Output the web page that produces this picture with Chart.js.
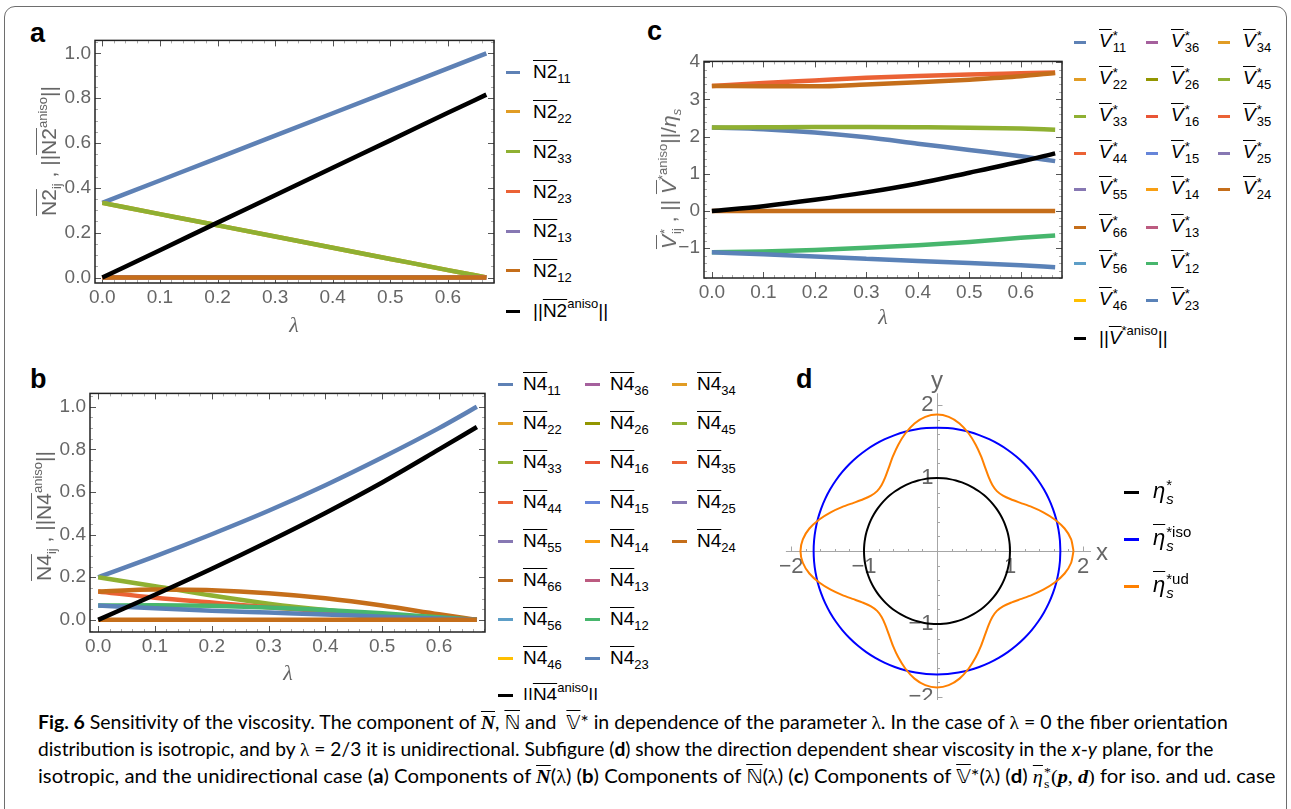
<!DOCTYPE html>
<html>
<head>
<meta charset="utf-8">
<title>Fig. 6 – Sensitivity of the viscosity</title>
<script src="https://cdn.jsdelivr.net/npm/chart.js@4.4.1/dist/chart.umd.min.js"></script>
<style>
  html, body { margin: 0; padding: 0; background: #fff; }
  #fig { position: relative; width: 1291px; height: 809px; overflow: hidden;
         font-family: "Liberation Sans", Arial, sans-serif; color: #000; }
  #frame { position: absolute; left: 4px; top: 6px; width: 1283px; height: 840px;
           border: 1.5px solid #6e6e6e; border-radius: 11px; box-sizing: border-box; }
  canvas { position: absolute; }
  .plab  { position: absolute; font: bold 27px "Liberation Sans", Arial, sans-serif; line-height: 1; }
  .ytitle { position: absolute; white-space: nowrap; color: #666; font-size: 21px;
            transform: translate(-50%, -50%) rotate(-90deg); }
  .lam { position: absolute; color: #666; font: italic 22px "Liberation Serif", serif;
         transform: translate(-50%, -50%); }
  .axl { position: absolute; color: #666; font-size: 24px; transform: translate(-50%, -50%); }
  .lg  { position: absolute; display: flex; align-items: center; white-space: nowrap;
         font-size: 19px; transform: translateY(-50%); }
  .lg.big { font-size: 22px; }
  .lg .sw { display: inline-block; height: 3px; flex: none; }
  .ol  { text-decoration: overline; text-decoration-thickness: 1px; }
  sub  { font-size: 13px; vertical-align: -5px; line-height: 0; }
  sup  { font-size: 13px; vertical-align: 9px; line-height: 0; }
  .st  { display: inline-block; font-size: 13px; line-height: 12px; vertical-align: -5px; margin-left: 1px; }
  .big .st { font-size: 15px; line-height: 14px; vertical-align: -6px; }
  .st > span { display: block; }
  #cap { position: absolute; left: 6px; top: 700px; width: 1279px; height: 109px; background: #fff; }
  .cl  { position: absolute; left: 32px; white-space: nowrap; font: 19px Lato, "Open Sans", sans-serif;
         line-height: 27px; transform-origin: 0 50%; }
  .lm  { font-family: "Liberation Serif", serif; }
  .bi  { font-family: "Liberation Serif", serif; font-weight: bold; font-style: italic; }
  .ds  { font-family: "DejaVu Sans", "DejaVu Serif", sans-serif; }
</style>
</head>
<body>
<div id="fig">
  <div id="frame"></div>

  <div class="plab" style="left:30px;top:20px">a</div>
  <div class="plab" style="left:30px;top:366px">b</div>
  <div class="plab" style="left:647px;top:18px">c</div>
  <div class="plab" style="left:796px;top:366px">d</div>

  <canvas id="chartA" width="460" height="300" style="left:40px;top:25px"></canvas>
  <canvas id="chartB" width="452" height="300" style="left:40px;top:378px"></canvas>
  <canvas id="chartC" width="410" height="272" style="left:660px;top:46px"></canvas>
  <canvas id="chartD" width="330" height="340" style="left:780px;top:370px"></canvas>

  <div class="ytitle" style="left:49px;top:151px"><span class="ol">N2</span><sub>ij</sub> , ||<span class="ol">N2</span><sup>aniso</sup>||</div>
  <div class="ytitle" style="left:44px;top:516px"><span class="ol">N4</span><sub>ij</sub> , ||<span class="ol">N4</span><sup>aniso</sup>||</div>
  <div class="ytitle" style="left:670px;top:179px"><i class="ol">V</i><span class="st"><span>*</span><span>ij</span></span> , || <i class="ol">V</i><sup>*aniso</sup>||/<i>η</i><sub><i>s</i></sub></div>

  <div class="lam" style="left:294px;top:325px">λ</div>
  <div class="lam" style="left:288px;top:673px">λ</div>
  <div class="lam" style="left:883px;top:317px">λ</div>

  <div class="axl" style="left:1102px;top:552px">x</div>
  <div class="axl" style="left:937px;top:380px">y</div>

  <div id="cap">
    <div class="cl" id="cl1" style="top:8px"><b>Fig. 6</b> Sensitivity of the viscosity. The component of <span class="ol bi">N</span>, <span class="ol ds">ℕ</span> and&nbsp; <span class="ol ds">𝕍</span>* in dependence of the parameter <span class="lm">λ</span>. In the case of <span class="lm">λ</span> = 0 the fiber orientation</div>
    <div class="cl" id="cl2" style="top:35px">distribution is isotropic, and by <span class="lm">λ</span> = 2/3 it is unidirectional. Subfigure (<b>d</b>) show the direction dependent shear viscosity in the <i>x</i>-<i>y</i> plane, for the</div>
    <div class="cl" id="cl3" style="top:62px">isotropic, and the unidirectional case (<b>a</b>) Components of <span class="ol bi">N</span>(<span class="lm">λ</span>) (<b>b</b>) Components of <span class="ol ds">ℕ</span>(<span class="lm">λ</span>) (<b>c</b>) Components of <span class="ol ds">𝕍</span>*(<span class="lm">λ</span>) (<b>d</b>) <span class="lm"><i class="ol">η</i><span class="st"><span>*</span><span>s</span></span>(<b><i>p</i></b>, <b><i>d</i></b>)</span> for iso. and ud. case</div>
  </div>
</div>

<script>
/* ── Fig. 6: viscosity sensitivity, four panels ───────────── */

// ── Shared ────────────────────────────────
const FONT = '"Liberation Sans", Arial, sans-serif';
const GRAY = '#666';

const COLORS = {
  blue: '#5E81B5', orange: '#E19C24', green: '#8FB032', red: '#EB6235',
  purple: '#8778B3', brown: '#C56E1A', ltblue: '#5D9EC7', yellow: '#FFBF00',
  magenta: '#A5609D', olive: '#929600', red2: '#E95536', blue2: '#6685D9',
  orange2: '#F89F13', pink: '#BC5B80', green2: '#47B66D', blue3: '#5A82B8'
};

// λ samples shared by a, b, c
const LAMBDA  = [0, 0.1, 0.2, 0.3, 0.4, 0.5, 0.6, 0.6667];
const X_TICKS = [0, 0.1, 0.2, 0.3, 0.4, 0.5, 0.6];

// ── (a) N2 ────────────────────────────────
const A_Y_TICKS = [0, 0.2, 0.4, 0.6, 0.8, 1.0];
const A_N2_11   = [0.333, 0.433, 0.533, 0.633, 0.733, 0.833, 0.933, 1.0];
const A_N2_22   = [0.333, 0.283, 0.233, 0.183, 0.133, 0.083, 0.033, 0.0];
const A_N2_33   = [0.333, 0.283, 0.233, 0.183, 0.133, 0.083, 0.033, 0.0];
const A_N2_23   = [0, 0, 0, 0, 0, 0, 0, 0];
const A_N2_13   = [0, 0, 0, 0, 0, 0, 0, 0];
const A_N2_12   = [0, 0, 0, 0, 0, 0, 0, 0];
const A_ANISO   = [0, 0.122, 0.245, 0.367, 0.49, 0.612, 0.735, 0.816];
const A_LEGEND  = ['11', '22', '33', '23', '13', '12'];
const A_LEGEND_COLORS = [COLORS.blue, COLORS.orange, COLORS.green, COLORS.red, COLORS.purple, COLORS.brown];

// ── (b) N4 ────────────────────────────────
const B_Y_TICKS = [0, 0.2, 0.4, 0.6, 0.8, 1.0];
const B_N4_11   = [0.2, 0.298, 0.402, 0.512, 0.632, 0.762, 0.9, 1.0];
const B_N4_33   = [0.2, 0.158, 0.114, 0.076, 0.046, 0.023, 0.008, 0.0];
const B_N4_44   = [0.133, 0.104, 0.081, 0.059, 0.04, 0.023, 0.009, 0.0];
const B_N4_66   = [0.133, 0.142, 0.139, 0.125, 0.101, 0.067, 0.026, 0.0];
const B_N4_12   = [0.067, 0.069, 0.066, 0.058, 0.046, 0.031, 0.012, 0.0];
const B_N4_23   = [0.067, 0.054, 0.043, 0.034, 0.025, 0.015, 0.006, 0.0];
const B_N4_24   = [0, 0, 0, 0, 0, 0, 0, 0];
const B_ANISO   = [0, 0.118, 0.24, 0.368, 0.502, 0.645, 0.80, 0.905];

// legend columns (same index layout for b and c)
const IDX_COLS = [
  ['11', '22', '33', '44', '55', '66', '56', '46'],
  ['36', '26', '16', '15', '14', '13', '12', '23'],
  ['34', '45', '35', '25', '24']
];
const IDX_COLORS = [
  [COLORS.blue, COLORS.orange, COLORS.green, COLORS.red, COLORS.purple, COLORS.brown, COLORS.ltblue, COLORS.yellow],
  [COLORS.magenta, COLORS.olive, COLORS.red2, COLORS.blue2, COLORS.orange2, COLORS.pink, COLORS.green2, COLORS.blue3],
  [COLORS.orange, COLORS.green, COLORS.red, COLORS.purple, COLORS.brown]
];

// ── (c) V* ────────────────────────────────
const C_Y_TICKS = [-1, 0, 1, 2, 3, 4];
const C_V_44    = [3.36, 3.44, 3.51, 3.58, 3.63, 3.67, 3.70, 3.72];
const C_V_66    = [3.36, 3.35, 3.35, 3.40, 3.46, 3.53, 3.62, 3.71];
const C_V_33    = [2.245, 2.25, 2.255, 2.255, 2.25, 2.24, 2.215, 2.185];
const C_V_11    = [2.245, 2.20, 2.11, 1.98, 1.81, 1.64, 1.47, 1.34];
const C_V_12    = [-1.11, -1.09, -1.05, -0.99, -0.92, -0.83, -0.72, -0.655];
const C_V_23    = [-1.11, -1.16, -1.22, -1.28, -1.34, -1.40, -1.46, -1.51];
const C_V_24    = [0, 0, 0, 0, 0, 0, 0, 0];
const C_ANISO   = [0, 0.13, 0.30, 0.50, 0.74, 1.03, 1.33, 1.55];

// ── (d) polar viscosity, one octant (mirrored by symmetry) ──
const D_ANGLES   = [0, 5, 10, 15, 20, 25, 30, 35, 40, 45];
const D_R_BASE   = [1, 1, 1, 1, 1, 1, 1, 1, 1, 1];
const D_R_ISO    = [1.69, 1.69, 1.69, 1.69, 1.69, 1.69, 1.69, 1.69, 1.69, 1.69];
const D_R_UD     = [1.87, 1.845, 1.775, 1.67, 1.55, 1.43, 1.32, 1.235, 1.18, 1.16];
const D_TICKS    = [-2, -1, 1, 2];
const D_X_AXIS   = [-2.07, 2.11];
const D_Y_AXIS   = [-2.2, 2.16];

// ── Helpers ───────────────────────────────
const fig = document.getElementById('fig');

function series(ys, color, w = 4.5) {
  return {
    data: LAMBDA.map((x, i) => ({ x, y: ys[i] })),
    borderColor: color, borderWidth: w, pointRadius: 0, fill: false,
    cubicInterpolationMode: 'monotone'
  };
}

// later datasets are drawn on top, as in the original
const stacked = list => list.map((d, i) => ({ ...d, order: list.length - i }));

function axis(min, max, ticks, fmt, dim, size, pad) {
  return {
    type: 'linear', min, max,
    grid: { display: false, drawTicks: false },
    border: { display: false },
    ticks: { color: GRAY, font: { family: FONT, size: 19 }, padding: pad,
             autoSkip: false, maxRotation: 0, callback: v => fmt(v) },
    afterBuildTicks: s => { s.ticks = ticks.map(value => ({ value })); },
    afterFit: s => { s[dim] = size; }
  };
}

const minus = v => (v < 0 ? '\u2212' + Math.abs(v) : String(v));

// Mathematica-style frame with inward ticks on all sides
const framePlugin = {
  id: 'mmaFrame',
  beforeDatasetsDraw(chart, args, o) {
    const { ctx, chartArea: a, scales: { x, y } } = chart;
    ctx.save();
    ctx.lineWidth = 1;
    const marks = (sc, step, len, color, horiz) => {
      ctx.strokeStyle = color;
      ctx.beginPath();
      const start = Math.ceil(sc.min / step - 1e-9) * step;
      for (let v = start; v <= sc.max + 1e-9; v += step) {
        const p = Math.round(sc.getPixelForValue(v)) + 0.5;
        if (horiz) {
          ctx.moveTo(p, a.bottom); ctx.lineTo(p, a.bottom - len);
          ctx.moveTo(p, a.top);    ctx.lineTo(p, a.top + len);
        } else {
          ctx.moveTo(a.left, p);  ctx.lineTo(a.left + len, p);
          ctx.moveTo(a.right, p); ctx.lineTo(a.right - len, p);
        }
      }
      ctx.stroke();
    };
    marks(x, o.xMinor, 3, '#aaa', true);
    marks(y, o.yMinor, 3, '#aaa', false);
    marks(x, 0.1, 6, '#555', true);
    marks(y, o.yMajor, 6, '#555', false);
    ctx.restore();
  },
  afterDatasetsDraw(chart) {
    const { ctx, chartArea: a } = chart;
    ctx.save();
    ctx.strokeStyle = '#222';
    ctx.lineWidth = 1.5;
    ctx.strokeRect(a.left, a.top, a.right - a.left, a.bottom - a.top);
    ctx.restore();
  }
};

function lambdaChart(id, c) {
  return new Chart(document.getElementById(id), {
    type: 'line',
    data: { datasets: stacked(c.datasets) },
    options: {
      responsive: false, animation: false, events: [],
      layout: { padding: { top: c.padTop, right: c.padRight, left: 0, bottom: 0 } },
      plugins: {
        legend: { display: false }, tooltip: { enabled: false },
        mmaFrame: { xMinor: 0.02, yMinor: c.yMinor, yMajor: c.yMajor }
      },
      scales: {
        x: axis(c.xMin, c.xMax, X_TICKS, v => v.toFixed(1), 'height', c.xH, 3),
        y: axis(c.yMin, c.yMax, c.yTicks, c.yFmt, 'width', c.yW, 4)
      }
    },
    plugins: [framePlugin]
  });
}

// ── Panel (a) ─────────────────────────────
lambdaChart('chartA', {
  datasets: [
    series(A_N2_11, COLORS.blue), series(A_N2_22, COLORS.orange), series(A_N2_33, COLORS.green),
    series(A_N2_23, COLORS.red), series(A_N2_13, COLORS.purple), series(A_N2_12, COLORS.brown),
    series(A_ANISO, '#000')
  ],
  xMin: -0.0127, xMax: 0.680, yMin: -0.0244, yMax: 1.058,
  yTicks: A_Y_TICKS, yFmt: v => v.toFixed(1), yMinor: 0.05, yMajor: 0.2,
  padTop: 10, padRight: 6, xH: 42, yW: 55
});

// ── Panel (b) ─────────────────────────────
lambdaChart('chartB', {
  datasets: [
    series(B_N4_11, COLORS.blue), series(B_N4_33, COLORS.green), series(B_N4_44, COLORS.red),
    series(B_N4_66, COLORS.brown), series(B_N4_12, COLORS.green2), series(B_N4_23, COLORS.blue3),
    series(B_N4_24, COLORS.brown), series(B_ANISO, '#000')
  ],
  xMin: -0.0144, xMax: 0.681, yMin: -0.057, yMax: 1.063,
  yTicks: B_Y_TICKS, yFmt: v => v.toFixed(1), yMinor: 0.05, yMajor: 0.2,
  padTop: 10, padRight: 7, xH: 46, yW: 50
});

// ── Panel (c) ─────────────────────────────
lambdaChart('chartC', {
  datasets: [
    series(C_V_11, COLORS.blue), series(C_V_33, COLORS.green), series(C_V_44, COLORS.red),
    series(C_V_66, COLORS.brown), series(C_V_12, COLORS.green2), series(C_V_23, COLORS.blue3),
    series(C_V_24, COLORS.brown), series(C_ANISO, '#000')
  ],
  xMin: -0.0153, xMax: 0.680, yMin: -1.8, yMax: 4.02,
  yTicks: C_Y_TICKS, yFmt: minus, yMinor: 0.2, yMajor: 1,
  padTop: 10, padRight: 8, xH: 40, yW: 44
});

// ── Panel (d) ─────────────────────────────
function polarPoints(rs) {
  const pts = [];
  for (let k = 0; k < 8; k++) {
    const order = D_ANGLES.map((_, i) => (k % 2 === 0 ? i : D_ANGLES.length - 1 - i));
    order.forEach((i, j) => {
      if (j === 0 && k > 0) return; // shared octant boundary
      const deg = k % 2 === 0 ? k * 45 + D_ANGLES[i] : (k + 1) * 45 - D_ANGLES[i];
      const t = deg * Math.PI / 180;
      pts.push({ x: rs[i] * Math.cos(t), y: rs[i] * Math.sin(t) });
    });
  }
  return pts;
}

const crossAxes = {
  id: 'crossAxes',
  beforeDatasetsDraw(chart) {
    const { ctx, scales: { x, y } } = chart;
    const x0 = Math.round(x.getPixelForValue(0)) + 0.5;
    const y0 = Math.round(y.getPixelForValue(0)) + 0.5;
    ctx.save();
    ctx.strokeStyle = '#a6a6a6';
    ctx.lineWidth = 1;
    ctx.beginPath();
    ctx.moveTo(x.getPixelForValue(D_X_AXIS[0]), y0); ctx.lineTo(x.getPixelForValue(D_X_AXIS[1]), y0);
    ctx.moveTo(x0, y.getPixelForValue(D_Y_AXIS[0])); ctx.lineTo(x0, y.getPixelForValue(D_Y_AXIS[1]));
    for (let v = -2; v <= 2.001; v += 0.2) {
      if (Math.abs(v) < 1e-6) continue;
      const major = Math.abs(v - Math.round(v)) < 1e-6;
      const len = major ? 5 : 2.5;
      const px = Math.round(x.getPixelForValue(v)) + 0.5;
      const py = Math.round(y.getPixelForValue(v)) + 0.5;
      ctx.moveTo(px, y0); ctx.lineTo(px, y0 - len);
      ctx.moveTo(x0, py); ctx.lineTo(x0 + len, py);
    }
    ctx.stroke();

    ctx.fillStyle = GRAY;
    ctx.font = '22px ' + FONT;
    D_TICKS.forEach(v => {
      ctx.textAlign = 'center'; ctx.textBaseline = 'top';
      ctx.fillText(minus(v), x.getPixelForValue(v), y0 + 4);
      ctx.textAlign = 'right'; ctx.textBaseline = 'middle';
      ctx.fillText(minus(v), x0 - 4, y.getPixelForValue(v));
    });
    ctx.restore();
  }
};

const loop = (rs, color) => ({
  data: polarPoints(rs), borderColor: color, borderWidth: 2,
  showLine: true, pointRadius: 0, tension: 0.2
});

new Chart(document.getElementById('chartD'), {
  type: 'scatter',
  data: {
    datasets: stacked([loop(D_R_BASE, '#000'), loop(D_R_ISO, '#0000FF'), loop(D_R_UD, '#FF8000')])
  },
  options: {
    responsive: false, animation: false, events: [],
    layout: { padding: 0 },
    elements: { line: { capBezierPoints: false } },
    plugins: { legend: { display: false }, tooltip: { enabled: false } },
    scales: {
      x: { type: 'linear', display: false, min: -2.1507, max: 2.3699 },
      y: { type: 'linear', display: false, min: -2.178, max: 2.4795 }
    }
  },
  plugins: [crossAxes]
});

// ── Legends (HTML, for overbars and subscripts) ──
function legendItem(x, y, color, html, sw, gap, cls = '') {
  const d = document.createElement('div');
  d.className = 'lg ' + cls;
  d.style.left = x + 'px';
  d.style.top = y + 'px';
  d.innerHTML = `<span class="sw" style="width:${sw}px;background:${color};margin-right:${gap}px"></span><span>${html}</span>`;
  fig.insertBefore(d, document.getElementById('cap'));
}

const n2 = k => `<span class="ol">N2</span><sub>${k}</sub>`;
const n4 = k => `<span class="ol">N4</span><sub>${k}</sub>`;
const vs = k => `<i class="ol">V</i><span class="st"><span>*</span><span>${k}</span></span>`;

const A_ROWS = [72, 111.5, 151.5, 191.5, 231, 270.5];
A_LEGEND.forEach((k, i) => legendItem(506, A_ROWS[i], A_LEGEND_COLORS[i], n2(k), 14, 13));
legendItem(506, 311, '#000', `||<span class="ol">N2</span><sup>aniso</sup>||`, 14, 13);

const B_ROWS = [384, 423, 462, 502, 541, 580, 619, 658];
const B_COLS = [498, 585, 672];
IDX_COLS.forEach((col, c) => col.forEach((k, r) =>
  legendItem(B_COLS[c], B_ROWS[r], IDX_COLORS[c][r], n4(k), 15, 10)));
legendItem(498, 695, '#000', `||<span class="ol">N4</span><sup>aniso</sup>||`, 15, 10);

const C_ROWS = [42, 79, 116, 153, 189, 227, 263, 300];
const C_COLS = [1074, 1146, 1218];
IDX_COLS.forEach((col, c) => col.forEach((k, r) =>
  legendItem(C_COLS[c], C_ROWS[r], IDX_COLORS[c][r], vs(k), 12, 13)));
legendItem(1074, 338, '#000', `||<i class="ol">V</i><sup>*aniso</sup>||`, 12, 13);

const D_LEGEND = [
  ['#000',    `<i>η</i><span class="st"><span>*</span><span><i>s</i></span></span>`],
  ['#0000FF', `<i class="ol">η</i><span class="st"><span>*iso</span><span><i>s</i></span></span>`],
  ['#FF8000', `<i class="ol">η</i><span class="st"><span>*ud</span><span><i>s</i></span></span>`]
];
const D_ROWS = [492, 539, 586];
D_LEGEND.forEach(([c, h], i) => legendItem(1124, D_ROWS[i], c, h, 15, 14, 'big'));

// ── Caption: fit each line to its measured width ──
const CAPTION_WIDTHS = [1190, 1175, 1237];
function fitCaption() {
  CAPTION_WIDTHS.forEach((w, i) => {
    const el = document.getElementById('cl' + (i + 1));
    el.style.transform = 'none';
    el.style.transform = `scaleX(${w / el.offsetWidth})`;
  });
}
fitCaption();
document.fonts.ready.then(fitCaption);
</script>
</body>
</html>
